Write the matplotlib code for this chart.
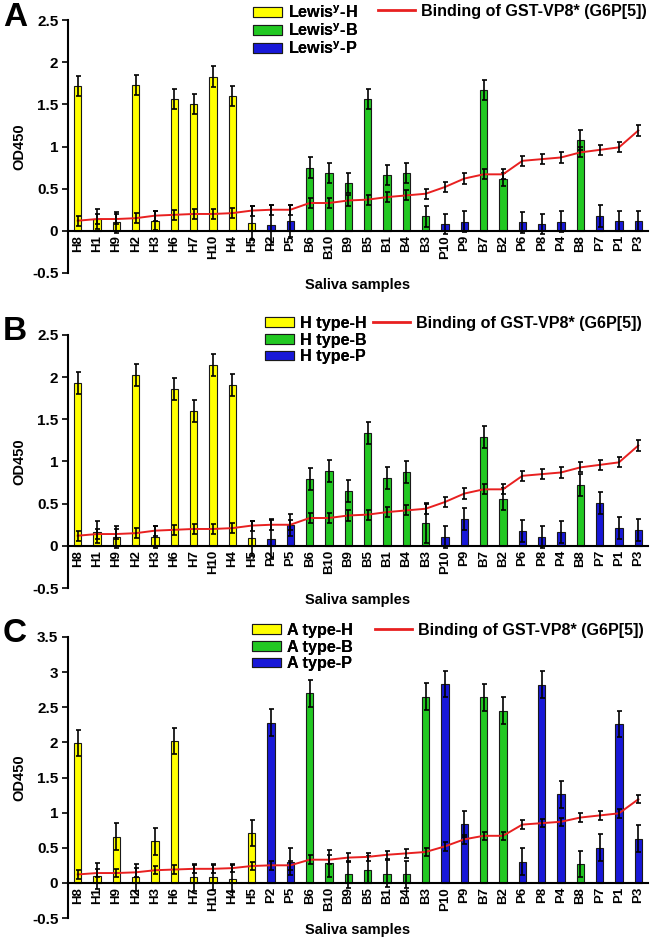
import matplotlib
matplotlib.use('Agg')
import matplotlib.pyplot as plt
from matplotlib.patches import Patch
from matplotlib.lines import Line2D
from matplotlib.ticker import FormatStrFormatter, MultipleLocator

plt.rcParams['font.family'] = ['Liberation Sans', 'DejaVu Sans']
plt.rcParams['font.weight'] = 'bold'
plt.rcParams['mathtext.fontset'] = 'custom'
plt.rcParams['mathtext.rm'] = 'Liberation Sans:bold'
plt.rcParams['mathtext.it'] = 'Liberation Sans:bold'
plt.rcParams['mathtext.bf'] = 'Liberation Sans:bold'

# saliva samples, same order in every panel (H/B/P = group)
samples = ['H8', 'H1', 'H9', 'H2', 'H3', 'H6', 'H7', 'H10', 'H4', 'H5', 'P2', 'P5',
           'B6', 'B10', 'B9', 'B5', 'B1', 'B4', 'B3', 'P10', 'P9', 'B7', 'B2',
           'P6', 'P8', 'P4', 'B8', 'P7', 'P1', 'P3']

# binding of GST-VP8* (G6P[5]) - red line
binding = [0.12, 0.14, 0.14, 0.15, 0.18, 0.19, 0.20, 0.20, 0.21, 0.24, 0.25, 0.25,
           0.33, 0.33, 0.36, 0.37, 0.40, 0.42, 0.44, 0.52, 0.62, 0.67, 0.67,
           0.83, 0.85, 0.87, 0.93, 0.96, 0.99, 1.19]
binding_err = [0.06] * 30

# A: Lewis y antigen
lewis_y = [1.72, 0.14, 0.10, 1.73, 0.12, 1.56, 1.50, 1.83, 1.60, 0.09, 0.07, 0.12,
           0.75, 0.69, 0.57, 1.56, 0.66, 0.69, 0.17, 0.08, 0.11, 1.67, 0.61,
           0.10, 0.08, 0.11, 1.08, 0.18, 0.12, 0.12]
lewis_y_err = [0.12, 0.12, 0.12, 0.12, 0.11, 0.12, 0.12, 0.12, 0.12, 0.20, 0.24, 0.19,
               0.12, 0.12, 0.12, 0.12, 0.12, 0.12, 0.12, 0.12, 0.12, 0.12, 0.08,
               0.12, 0.12, 0.12, 0.12, 0.13, 0.12, 0.12]

# B: H type antigen
h_type = [1.93, 0.16, 0.10, 2.03, 0.11, 1.86, 1.60, 2.14, 1.91, 0.09, 0.08, 0.25,
          0.79, 0.89, 0.65, 1.34, 0.80, 0.87, 0.27, 0.10, 0.32, 1.29, 0.56,
          0.18, 0.11, 0.16, 0.72, 0.51, 0.21, 0.19]
h_type_err = [0.13, 0.13, 0.13, 0.13, 0.13, 0.13, 0.13, 0.13, 0.13, 0.21, 0.24, 0.13,
              0.13, 0.13, 0.13, 0.13, 0.13, 0.13, 0.24, 0.13, 0.13, 0.13, 0.13,
              0.13, 0.13, 0.13, 0.13, 0.13, 0.13, 0.13]

# C: A type antigen
a_type = [1.99, 0.10, 0.66, 0.08, 0.59, 2.02, 0.08, 0.085, 0.06, 0.71, 2.28, 0.30,
          2.70, 0.28, 0.12, 0.19, 0.13, 0.12, 2.65, 2.83, 0.84, 2.64, 2.45,
          0.30, 2.82, 1.26, 0.27, 0.50, 2.26, 0.63]
a_type_err = [0.19] * 30

colours = {'H': '#FFFF00', 'B': '#22C822', 'P': '#1818D8'}

W, H = 650, 943
fig = plt.figure(figsize=(W / 100, H / 100), dpi=100)


def fx(px):
    return px / W


def fy(py):
    return 1 - py / H


def panel(top_px, bot_px, ymax, values, errs, letter, name, leg_px, line_px):
    ax = fig.add_axes([fx(68), fy(bot_px), fx(648) - fx(68), fy(top_px) - fy(bot_px)])
    x = list(range(len(samples)))
    cols = [colours[s[0]] for s in samples]
    ax.bar(x, values, width=0.38, color=cols, edgecolor='#1a1a1a', linewidth=0.8, zorder=2)
    ax.errorbar(x, values, yerr=errs, fmt='none', ecolor='black', elinewidth=1.2,
                capsize=1.8, capthick=1.2, zorder=3)
    ax.plot(x, binding, color='#E82020', lw=1.4, zorder=4)
    ax.errorbar(x, binding, yerr=binding_err, fmt='none', ecolor='black', elinewidth=1.2,
                capsize=1.8, capthick=1.2, zorder=5)

    ax.set_xlim(-0.5, len(samples) - 0.5)
    ax.set_ylim(-0.5, ymax)
    ax.spines['top'].set_visible(False)
    ax.spines['right'].set_visible(False)
    ax.spines['bottom'].set_position(('data', 0))
    ax.spines['bottom'].set_linewidth(1.5)
    ax.spines['left'].set_linewidth(1.5)
    ax.yaxis.set_major_locator(MultipleLocator(0.5))
    ax.yaxis.set_major_formatter(FormatStrFormatter('%g'))
    ax.tick_params(axis='y', direction='out', length=4, width=1.2, labelsize=11, pad=3)
    ax.set_xticks(x)
    ax.set_xticklabels(samples, rotation=90, fontsize=9.5, fontweight='bold')
    ax.tick_params(axis='x', length=0, pad=3)
    ax.set_ylabel('OD450', fontsize=10.5, fontweight='bold')
    ax.yaxis.set_label_coords(-0.072, 0.5)
    ax.set_xlabel('Saliva samples', fontsize=10.5, fontweight='bold')
    ax.xaxis.set_label_coords(0.5, -5 / (bot_px - top_px))

    fig.text(fx(3), fy(top_px - 3), letter, fontsize=24, fontweight='bold', va='center', ha='left')

    handles = [Patch(facecolor=colours[g], edgecolor='#1a1a1a', linewidth=0.8) for g in 'HBP']
    labels = [name + '-H', name + '-B', name + '-P']
    leg = fig.legend(handles, labels, loc='upper left', bbox_to_anchor=(fx(leg_px[0]), fy(leg_px[1])),
                     frameon=False, fontsize=11.6, handlelength=1.8, handleheight=0.55,
                     handletextpad=0.35, labelspacing=0.1, borderpad=0, borderaxespad=0)
    fig.add_artist(leg)
    fig.legend([Line2D([], [], color='#E82020', lw=2)], ['Binding of GST-VP8* (G6P[5])'],
               loc='upper left', bbox_to_anchor=(fx(line_px[0]), fy(line_px[1])),
               frameon=False, fontsize=11.6, handlelength=2.3, handletextpad=0.35,
               borderpad=0, borderaxespad=0)
    return ax


panel(20, 273, 2.5, lewis_y, lewis_y_err, 'A', 'Lewis$^{\\mathrm{y}}$', (253, 4), (378, 4))
panel(335, 588, 2.5, h_type, h_type_err, 'B', 'H type', (265, 316), (373, 316))
panel(637, 918, 3.5, a_type, a_type_err, 'C', 'A type', (252, 623), (375, 623))

fig.savefig('out.png', dpi=100)
